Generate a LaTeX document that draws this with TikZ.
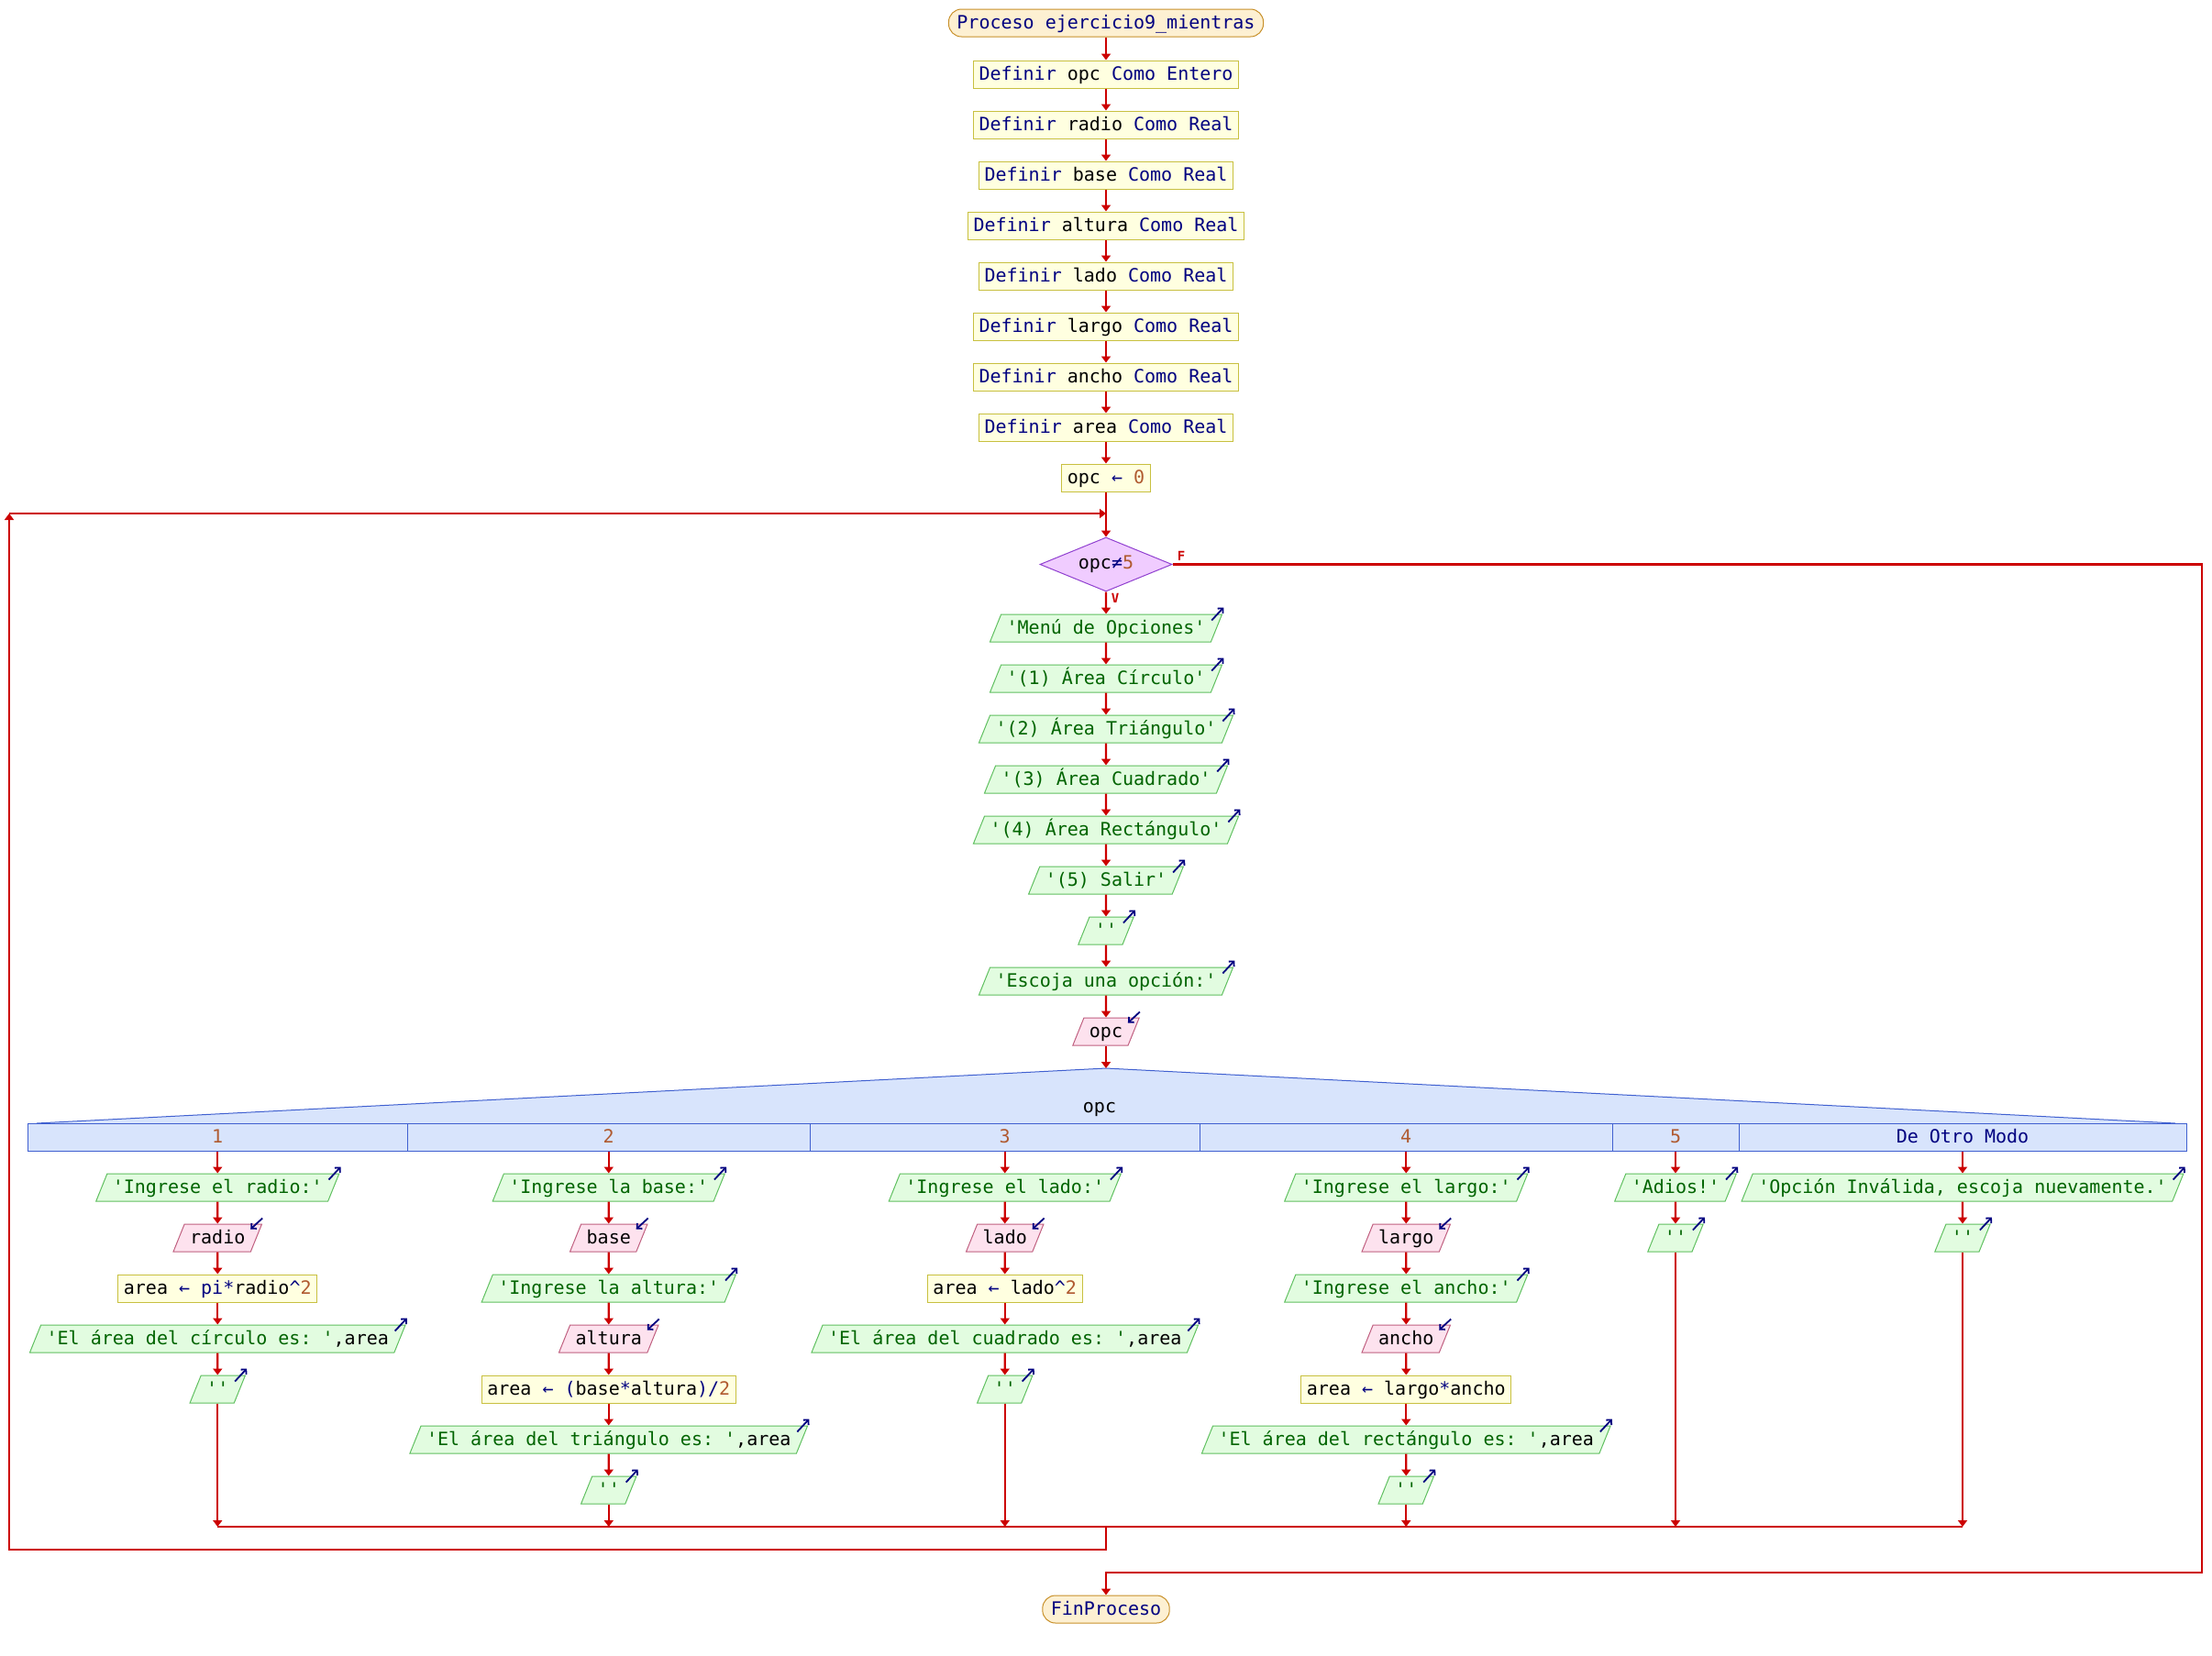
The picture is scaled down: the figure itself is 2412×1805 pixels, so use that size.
\documentclass[tikz,border=0pt]{standalone}
\usepackage{fontspec}
\setmonofont{DejaVu Sans Mono}
\usetikzlibrary{shapes.geometric,arrows.meta}

\definecolor{flowred}{HTML}{CC0000}
\definecolor{kwc}{HTML}{000080}
\definecolor{strc}{HTML}{006400}
\definecolor{numc}{HTML}{B05A30}
\definecolor{termf}{HTML}{FDF0D2}
\definecolor{termb}{HTML}{C8902A}
\definecolor{procf}{HTML}{FFFFE0}
\definecolor{procb}{HTML}{C8C040}
\definecolor{outf}{HTML}{E2FCE0}
\definecolor{outb}{HTML}{60C060}
\definecolor{inf}{HTML}{FDE2EE}
\definecolor{inb}{HTML}{C06080}
\definecolor{decf}{HTML}{F0CCFF}
\definecolor{decb}{HTML}{9040D0}
\definecolor{swf}{HTML}{D8E4FC}
\definecolor{swb}{HTML}{4060D0}

\newcommand{\pf}{\ttfamily\fontsize{20}{24}\selectfont\frenchspacing}
\newcommand{\pkw}[1]{\textcolor{kwc}{#1}}
\newcommand{\pstr}[1]{\textcolor{strc}{#1}}
\newcommand{\pnum}[1]{\textcolor{numc}{#1}}

\tikzset{
  pbox/.style={font=\pf, inner xsep=6pt, inner ysep=3pt, text height=18pt, text depth=6pt, line width=1pt},
  term/.style={pbox, rectangle, rounded corners=14pt, draw=termb, fill=termf, inner xsep=9pt},
  proc/.style={pbox, rectangle, draw=procb, fill=procf},
  outp/.style={pbox, trapezium, trapezium left angle=68, trapezium right angle=112, draw=outb, fill=outf},
  inp/.style={pbox, trapezium, trapezium left angle=68, trapezium right angle=112, draw=inb, fill=inf},
  decision/.style={diamond, draw=decb, fill=decf, line width=1pt, shape aspect=2.44,
    minimum width=144pt, minimum height=59pt, inner sep=0pt, font=\pf},
  hdr/.style={pbox, rectangle, draw=swb, fill=swf, inner xsep=0pt},
  flow/.style={draw=flowred, line width=2.2pt, -{Triangle[length=7pt,width=10pt]}},
  redline/.style={draw=flowred, line width=2.2pt},
  icon/.style={draw=kwc, line width=1.8pt, -{Straight Barb[length=4pt,width=8pt]}},
  vflabel/.style={text=flowred, font=\ttfamily\bfseries\fontsize{14}{14}\selectfont, inner sep=0pt}
}

\begin{document}
\begin{tikzpicture}[x=1pt,y=-1pt]
\useasboundingbox (0,0) rectangle (2412,1805);
\fill[white] (0,0) rectangle (2412,1805);

% ---- main column ----
\node[term] (p0) at (1206,25) {\pkw{Proceso ejercicio9\_mientras}};
\node[proc] (d1) at (1206,81)  {\pkw{Definir} opc \pkw{Como Entero}};
\node[proc] (d2) at (1206,136) {\pkw{Definir} radio \pkw{Como Real}};
\node[proc] (d3) at (1206,191) {\pkw{Definir} base \pkw{Como Real}};
\node[proc] (d4) at (1206,246) {\pkw{Definir} altura \pkw{Como Real}};
\node[proc] (d5) at (1206,301) {\pkw{Definir} lado \pkw{Como Real}};
\node[proc] (d6) at (1206,356) {\pkw{Definir} largo \pkw{Como Real}};
\node[proc] (d7) at (1206,411) {\pkw{Definir} ancho \pkw{Como Real}};
\node[proc] (d8) at (1206,466) {\pkw{Definir} area \pkw{Como Real}};
\node[proc] (a0) at (1206,521) {opc \pkw{←} \pnum{0}};

\node[decision] (dec) at (1206,615.5) {opc\pkw{≠}\pnum{5}};
\node[vflabel] (flab) at (1288,606) {F};
\node[vflabel] (vlab) at (1216,652) {V};

\node[outp] (m1) at (1206,685)  {\pstr{'Menú de Opciones'}};
\node[outp] (m2) at (1206,740)  {\pstr{'(1) Área Círculo'}};
\node[outp] (m3) at (1206,795)  {\pstr{'(2) Área Triángulo'}};
\node[outp] (m4) at (1206,850)  {\pstr{'(3) Área Cuadrado'}};
\node[outp] (m5) at (1206,905)  {\pstr{'(4) Área Rectángulo'}};
\node[outp] (m6) at (1206,960)  {\pstr{'(5) Salir'}};
\node[outp] (m7) at (1206,1015) {\pstr{''}};
\node[outp] (m8) at (1206,1070) {\pstr{'Escoja una opción:'}};
\node[inp]  (rd) at (1206,1125) {opc};

% ---- selector ----
\coordinate (swtop) at (1206,1165);
\fill[swf] (40,1225) -- (swtop) -- (2372,1225) -- cycle;
\draw[swb, line width=1pt] (40,1225) -- (swtop) -- (2372,1225);
\node[font=\pf, inner sep=0pt] (swlabel) at (1199,1210) {opc};

\node[hdr, minimum width=414.5pt] (h1) at (237.25,1240)  {\pnum{1}};
\node[hdr, minimum width=438.5pt] (h2) at (663.75,1240)  {\pnum{2}};
\node[hdr, minimum width=425.5pt] (h3) at (1095.75,1240) {\pnum{3}};
\node[hdr, minimum width=449.5pt] (h4) at (1533.25,1240) {\pnum{4}};
\node[hdr, minimum width=138pt]   (h5) at (1827,1240)    {\pnum{5}};
\node[hdr, minimum width=488pt]   (h6) at (2140,1240)    {\pkw{De Otro Modo}};

% case 1
\node[outp] (c1a) at (237.25,1295) {\pstr{'Ingrese el radio:'}};
\node[inp]  (c1b) at (237.25,1350) {radio};
\node[proc] (c1c) at (237.25,1405) {area \pkw{←} \pkw{pi*}radio\pkw{\textasciicircum}\pnum{2}};
\node[outp] (c1d) at (237.25,1460) {\pstr{'El área del círculo es: '},area};
\node[outp] (c1e) at (237.25,1515) {\pstr{''}};
% case 2
\node[outp] (c2a) at (663.75,1295) {\pstr{'Ingrese la base:'}};
\node[inp]  (c2b) at (663.75,1350) {base};
\node[outp] (c2c) at (663.75,1405) {\pstr{'Ingrese la altura:'}};
\node[inp]  (c2d) at (663.75,1460) {altura};
\node[proc] (c2e) at (663.75,1515) {area \pkw{←} \pkw{(}base\pkw{*}altura\pkw{)/}\pnum{2}};
\node[outp] (c2f) at (663.75,1570) {\pstr{'El área del triángulo es: '},area};
\node[outp] (c2g) at (663.75,1625) {\pstr{''}};
% case 3
\node[outp] (c3a) at (1095.75,1295) {\pstr{'Ingrese el lado:'}};
\node[inp]  (c3b) at (1095.75,1350) {lado};
\node[proc] (c3c) at (1095.75,1405) {area \pkw{←} lado\pkw{\textasciicircum}\pnum{2}};
\node[outp] (c3d) at (1095.75,1460) {\pstr{'El área del cuadrado es: '},area};
\node[outp] (c3e) at (1095.75,1515) {\pstr{''}};
% case 4
\node[outp] (c4a) at (1533.25,1295) {\pstr{'Ingrese el largo:'}};
\node[inp]  (c4b) at (1533.25,1350) {largo};
\node[outp] (c4c) at (1533.25,1405) {\pstr{'Ingrese el ancho:'}};
\node[inp]  (c4d) at (1533.25,1460) {ancho};
\node[proc] (c4e) at (1533.25,1515) {area \pkw{←} largo\pkw{*}ancho};
\node[outp] (c4f) at (1533.25,1570) {\pstr{'El área del rectángulo es: '},area};
\node[outp] (c4g) at (1533.25,1625) {\pstr{''}};
% case 5
\node[outp] (c5a) at (1827,1295) {\pstr{'Adios!'}};
\node[outp] (c5b) at (1827,1350) {\pstr{''}};
% otherwise
\node[outp] (c6a) at (2140,1295) {\pstr{'Opción Inválida, escoja nuevamente.'}};
\node[outp] (c6b) at (2140,1350) {\pstr{''}};

\node[term] (fin) at (1206,1755) {\pkw{FinProceso}};

% ---- junction points ----
\coordinate (j1) at (237.25,1665);
\coordinate (j2) at (663.75,1665);
\coordinate (j3) at (1095.75,1665);
\coordinate (j4) at (1533.25,1665);
\coordinate (j5) at (1827,1665);
\coordinate (j6) at (2140,1665);
\coordinate (jc) at (1206,1665);
\coordinate (lb) at (1206,1690);
\coordinate (lbl) at (10,1690);
\coordinate (ltl) at (10,560);
\coordinate (merge) at (1206,560);
\coordinate (fr1) at (2401,615.5);
\coordinate (fr2) at (2401,1715);
\coordinate (fb) at (1206,1715);

% ---- connectors ----
\foreach \a/\b in {p0/d1,d1/d2,d2/d3,d3/d4,d4/d5,d5/d6,d6/d7,d7/d8,d8/a0,a0/dec,
                   dec/m1,m1/m2,m2/m3,m3/m4,m4/m5,m5/m6,m6/m7,m7/m8,m8/rd,
                   h1/c1a,c1a/c1b,c1b/c1c,c1c/c1d,c1d/c1e,
                   h2/c2a,c2a/c2b,c2b/c2c,c2c/c2d,c2d/c2e,c2e/c2f,c2f/c2g,
                   h3/c3a,c3a/c3b,c3b/c3c,c3c/c3d,c3d/c3e,
                   h4/c4a,c4a/c4b,c4b/c4c,c4c/c4d,c4d/c4e,c4e/c4f,c4f/c4g,
                   h5/c5a,c5a/c5b,h6/c6a,c6a/c6b}
  {\draw[flow] (\a) -- (\b);}
\draw[flow] (rd) -- (swtop);
\foreach \a/\b in {c1e/j1,c2g/j2,c3e/j3,c4g/j4,c5b/j5,c6b/j6}
  {\draw[flow] (\a) -- (\b);}
\draw[redline] (j1) -- (j6);
\draw[flow] (jc) -- (lb) -- (lbl) -- (ltl);
\draw[flow] (ltl) -- (merge);
\draw[flow] (dec.east) -- (fr1) -- (fr2) -- (fb) -- (fin);

% ---- output / input markers ----
\foreach \n in {m1,m2,m3,m4,m5,m6,m7,m8,c1a,c1d,c1e,c2a,c2c,c2f,c2g,c3a,c3d,c3e,
                c4a,c4c,c4f,c4g,c5a,c5b,c6a,c6b}
  {\draw[icon] ([shift={(-12,7)}]\n.top right corner) -- ([shift={(1,-7)}]\n.top right corner);}
\foreach \n in {rd,c1b,c2b,c2d,c3b,c4b,c4d}
  {\draw[icon] ([shift={(0,-6)}]\n.top right corner) -- ([shift={(-13,6)}]\n.top right corner);}
\end{tikzpicture}
\end{document}
